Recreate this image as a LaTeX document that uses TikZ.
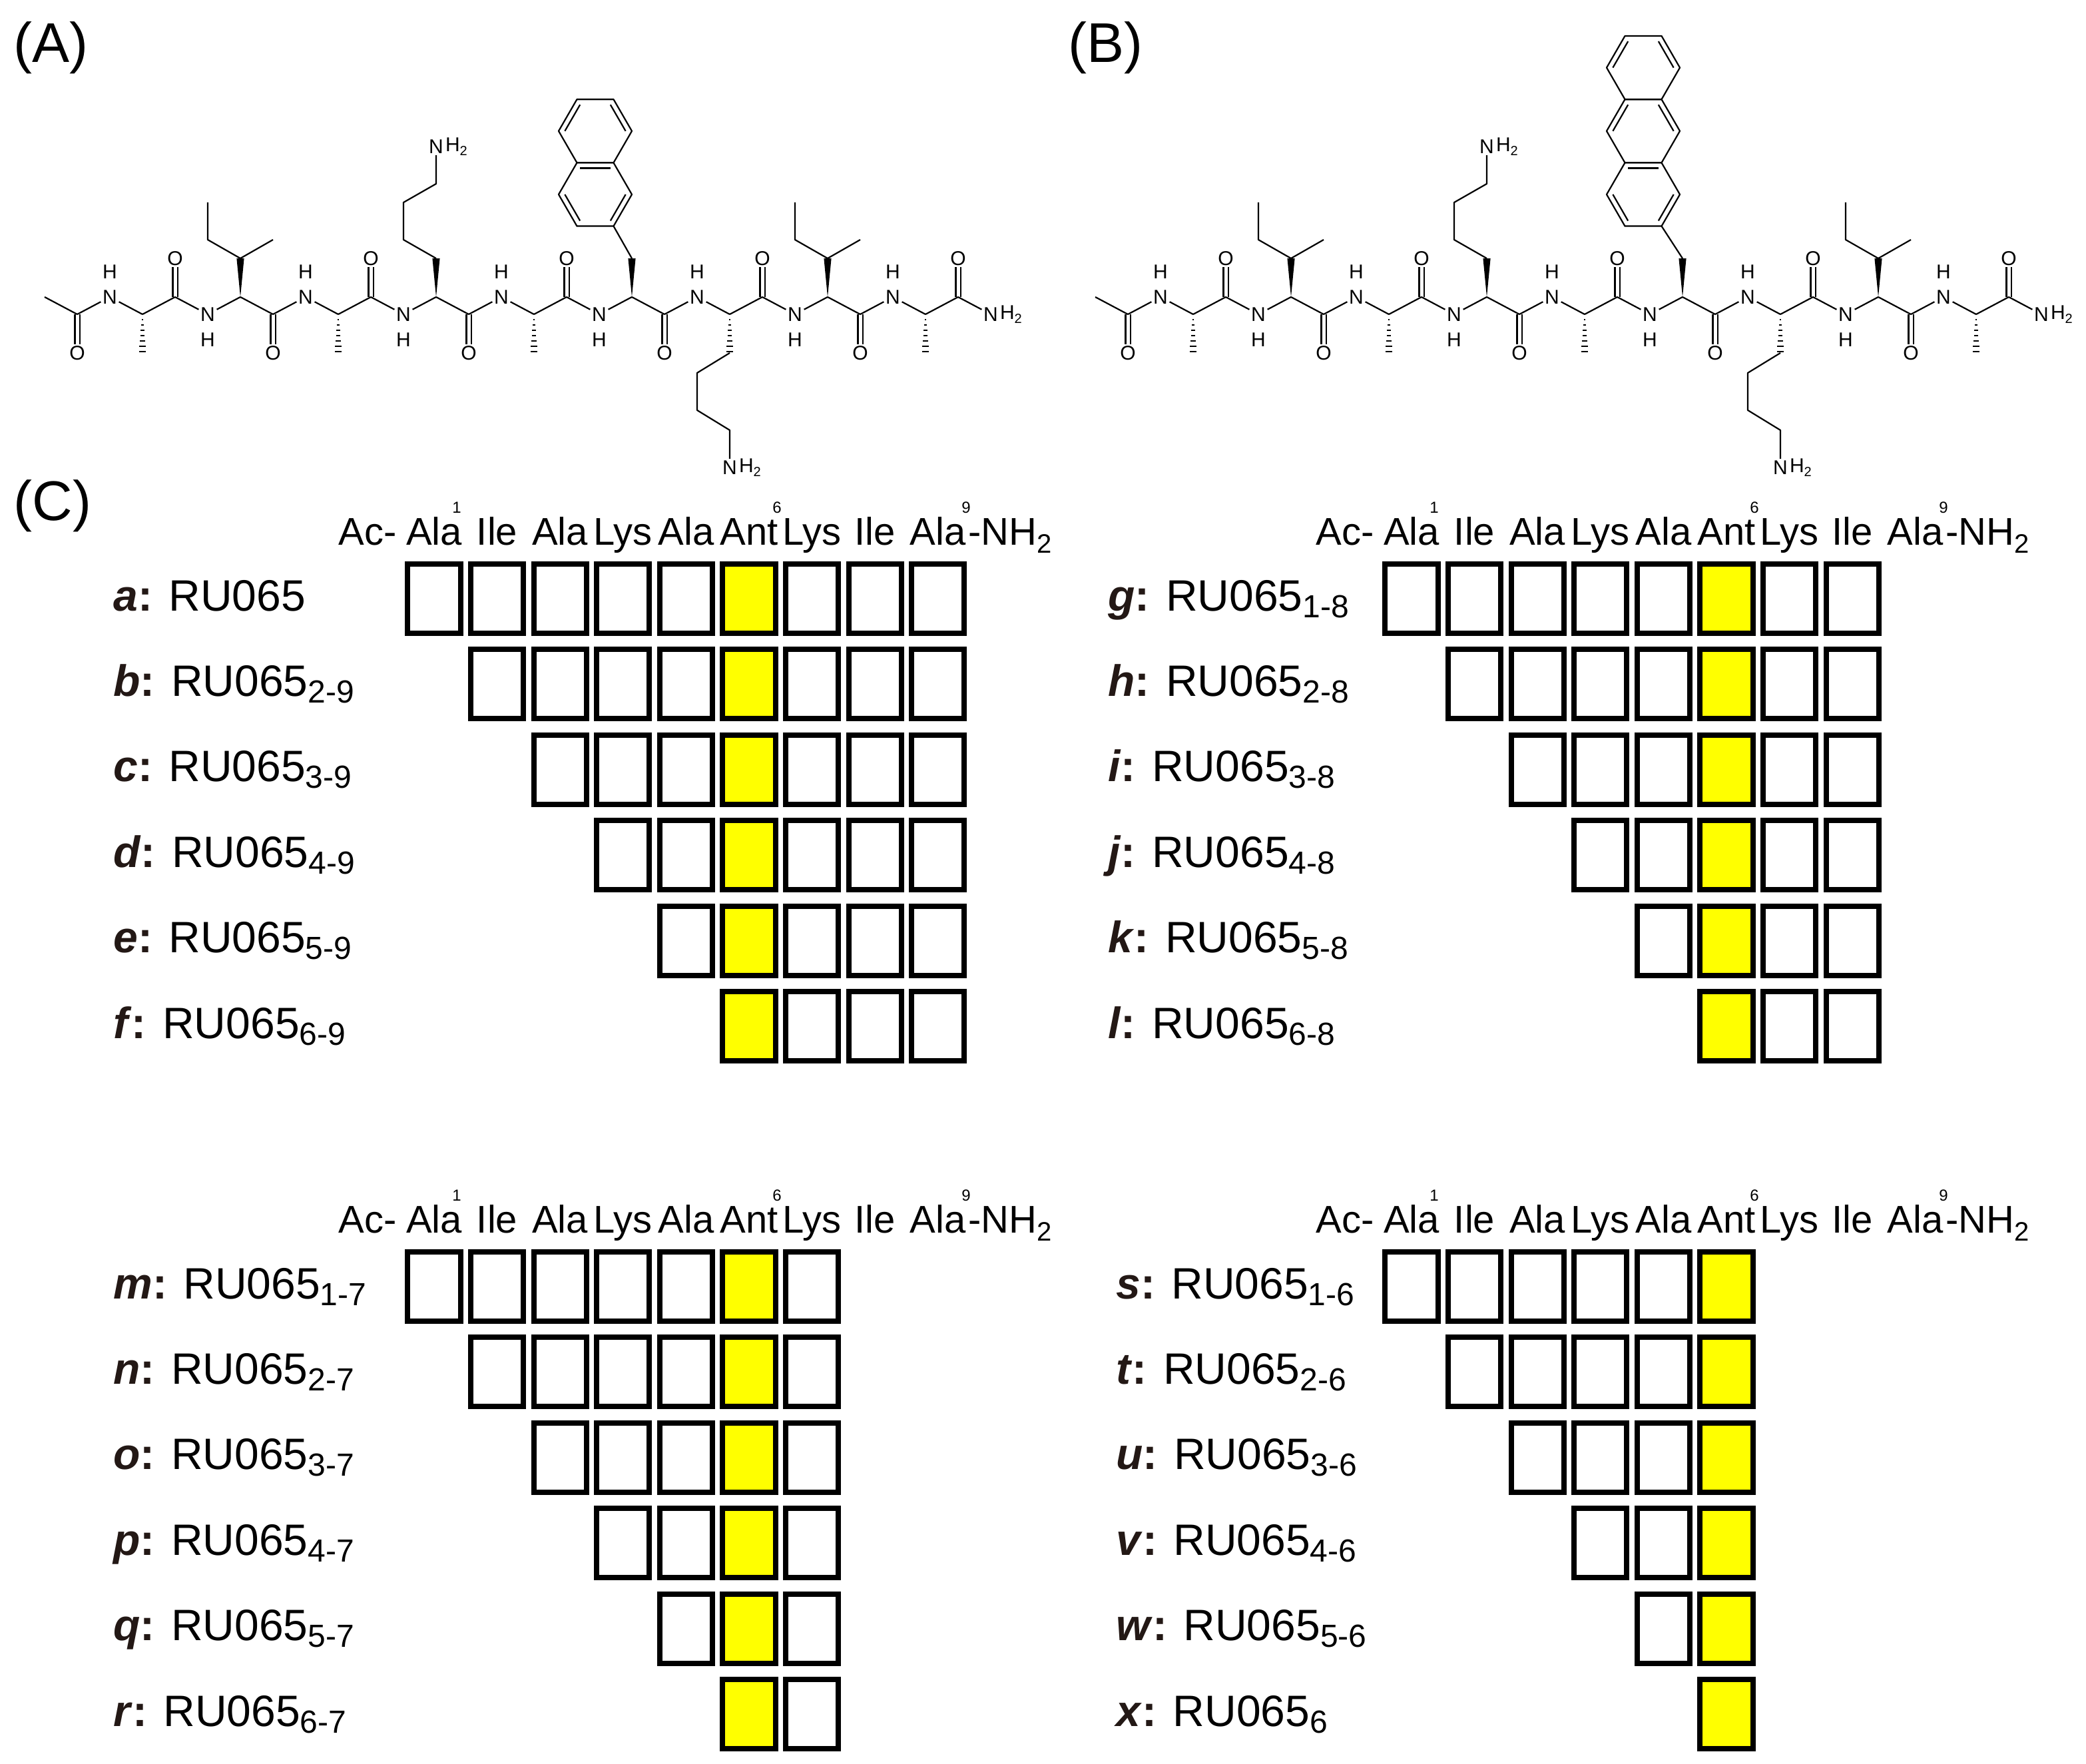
\documentclass[tikz,border=0pt]{standalone}
\usepackage{fontspec}
\setmainfont{Liberation Sans}
\usetikzlibrary{calc}
\definecolor{labc}{HTML}{231815}
\definecolor{ylw}{HTML}{FFFF00}
\tikzset{
  atom/.style={font=\fontsize{15}{15}\selectfont, inner sep=1.2pt},
  bond/.style={line width=1.1pt, line join=round},
  box/.style={draw, line width=4pt, minimum width=39.6pt, minimum height=52pt, inner sep=0pt},
  hdr/.style={font=\fontsize{29}{30}\selectfont, anchor=base, inner sep=0pt},
  sup/.style={font=\fontsize{12}{12}\selectfont, inner sep=0pt},
  lab/.style={font=\fontsize{33}{34}\selectfont, anchor=base west, inner sep=0pt},
  plab/.style={font=\fontsize{42}{42}\selectfont, anchor=north west, inner sep=0pt}
}
\newcommand\subs[1]{\raisebox{-5pt}{\fontsize{24}{24}\selectfont #1}}
% hashed bond down from (x,236) to (x,265)
\newcommand\hashdown[1]{\foreach \k in {1,...,7}{\draw[line width=1pt] ({#1-0.4-0.33*\k},{236+\k*4}) -- ({#1+0.4+0.33*\k},{236+\k*4});}}
\newcommand\wedgeup[1]{\fill ({#1},223) -- ({#1-2.8},194) -- ({#1+2.8},194) -- cycle;}
\newcommand\sideIle[1]{\wedgeup{#1}\draw[bond] ({#1},194) -- ({#1-24.5},180) -- ({#1-24.5},152); \draw[bond] ({#1},194) -- ({#1+24.5},180);}
\newcommand\sideAla[1]{\hashdown{#1}}
\newcommand\sideLysUp[2]{\wedgeup{#1}
  \node[atom] (#2) at ({#1},110) {N};
  \node[atom, anchor=west, inner sep=0pt] at (#2.east) {H\raisebox{-3pt}{\fontsize{10}{10}\selectfont 2}};
  \draw[bond] ({#1},194) -- ({#1-24.5},180) -- ({#1-24.5},152) -- ({#1},138) -- (#2);}
\newcommand\sideLysDown[2]{\hashdown{#1}
  \node[atom] (#2) at ({#1},351) {N};
  \node[atom, anchor=west, inner sep=0pt] at (#2.east) {H\raisebox{-3pt}{\fontsize{10}{10}\selectfont 2}};
  \draw[bond] ({#1},265) -- ({#1-24.5},280) -- ({#1-24.5},308) -- ({#1},323) -- (#2);}
% flat-top hexagon, center (#1,#2)
\newcommand\hexa[3]{%
  \coordinate (#3c) at (#1,#2);
  \coordinate (#3v0) at ({#1+27.5},#2);
  \coordinate (#3v1) at ({#1+13.75},{#2+23.8});
  \coordinate (#3v2) at ({#1-13.75},{#2+23.8});
  \coordinate (#3v3) at ({#1-27.5},#2);
  \coordinate (#3v4) at ({#1-13.75},{#2-23.8});
  \coordinate (#3v5) at ({#1+13.75},{#2-23.8});
  \draw[bond] (#3v0) -- (#3v1) -- (#3v2) -- (#3v3) -- (#3v4) -- (#3v5) -- cycle;}
\newcommand\inner[3]{\draw[bond] ($(#1#2)!0.17!(#1c)$) -- ($(#1#3)!0.17!(#1c)$);}
\newcommand\sideAr[2]{\wedgeup{#1}
  \ifnum#2=0
    \hexa{#1-27.5}{98.4}{r1}\hexa{#1-27.5}{146}{r2}
    \inner{r1}{v3}{v4}\inner{r1}{v5}{v0}\inner{r2}{v4}{v5}\inner{r2}{v2}{v3}\inner{r2}{v0}{v1}
    \draw[bond] ({#1},194) -- (r2v1);
  \else
    \hexa{#1-29.5}{50.8}{r1}\hexa{#1-29.5}{98.4}{r3}\hexa{#1-29.5}{146}{r2}
    \inner{r1}{v3}{v4}\inner{r1}{v5}{v0}\inner{r3}{v3}{v4}\inner{r3}{v5}{v0}
    \inner{r2}{v4}{v5}\inner{r2}{v2}{v3}\inner{r2}{v0}{v1}
    \draw[bond] ({#1},194) -- (r2v1);
  \fi}
\newcommand\peptide[2]{%
  \foreach \i in {0,...,29}{
    \pgfmathsetmacro\xx{33.5+24.5*\i}
    \pgfmathtruncatemacro\odd{mod(\i,2)}
    \pgfmathtruncatemacro\m{mod(\i,3)}
    \pgfmathsetmacro\yy{ifthenelse(\odd==1,236,223)}
    \ifnum\m=2
      \node[atom] (#1-\i) at (\xx,\yy) {N};
      \ifnum\i<29
        \ifnum\odd=1 \node[atom] at (\xx,255) {H};\else \node[atom] at (\xx,204) {H};\fi
      \else
        \node[atom, anchor=west, inner sep=0pt] at (#1-\i.east) {H\raisebox{-3pt}{\fontsize{10}{10}\selectfont 2}};
      \fi
    \else
      \coordinate (#1-\i) at (\xx,\yy);
    \fi
    \ifnum\m=1
      \ifnum\odd=1
        \node[atom] (#1-O\i) at (\xx,265) {O};
        \draw[bond] ([xshift=-1.8pt]#1-\i) -- ([xshift=-1.8pt]#1-O\i.north);
        \draw[bond] ([xshift=1.8pt]#1-\i) -- ([xshift=1.8pt]#1-O\i.north);
      \else
        \node[atom] (#1-O\i) at (\xx,194) {O};
        \draw[bond] ([xshift=-1.8pt]#1-\i) -- ([xshift=-1.8pt]#1-O\i.south);
        \draw[bond] ([xshift=1.8pt]#1-\i) -- ([xshift=1.8pt]#1-O\i.south);
      \fi
    \fi
  }
  \foreach \i [evaluate=\i as \j using int(\i+1)] in {0,...,28}{\draw[bond] (#1-\i) -- (#1-\j);}
  \sideAla{107}\sideIle{180.5}\sideAla{254}\sideLysUp{327.5}{#1-K4}\sideAla{401}
  \sideAr{474.5}{#2}\sideLysDown{548}{#1-K7}\sideIle{621.5}\sideAla{695}
}
% panel: #1 id, #2 xoff, #3 yoff, #4 ncols, #5 label x, #6 list
\newcommand\pepPanel[6]{%
  \begin{scope}[shift={(#2,#3)}]
    \node[hdr, anchor=base east] (#1-h0) at (298,409) {Ac-};
    \foreach \w [count=\c] in {Ala,Ile,Ala,Lys,Ala,Ant,Lys,Ile,Ala}{
      \node[hdr] (#1-h\c) at ({326+47.3*(\c-1)},409) {\w};}
    \node[hdr, anchor=base west] (#1-h10) at (727,409) {-NH\raisebox{-6pt}{\fontsize{20}{20}\selectfont 2}};
    \node[sup] (#1-s1) at (343,381) {1};
    \node[sup] (#1-s6) at (583.5,381) {6};
    \node[sup] (#1-s9) at (725.5,381) {9};
    \foreach \r in {0,...,5}{
      \foreach \c in {1,...,#4}{
        \ifnum\c>\r
          \ifnum\c=6
            \node[box, fill=ylw] (#1-b\r-\c) at ({326+47.3*(\c-1)},{449.5+64.2*\r}) {};
          \else
            \node[box] (#1-b\r-\c) at ({326+47.3*(\c-1)},{449.5+64.2*\r}) {};
          \fi
        \fi
      }
    }
    \foreach \l/\s [count=\r from 0] in {#6}{
      \node[lab] (#1-l\r) at (#5,{458.5+64.2*\r}) {\textcolor{labc}{\textbf{\textit{\l}:}} RU065\subs{\s}};
    }
  \end{scope}}
\begin{document}
\begin{tikzpicture}[x=1pt,y=-1pt]
\useasboundingbox (0,0) rectangle (1566.5,1324.5);
\fill[white] (0,0) rectangle (1566.5,1324.5);
\node[plab] (pA) at (10,16) {(A)};
\node[plab] (pB) at (802,16) {(B)};
\node[plab] (pC) at (10,360) {(C)};
\peptide{A}{0}
\begin{scope}[shift={(789,0)}]
\peptide{B}{1}
\end{scope}
\pepPanel{P1}{0}{0}{9}{85}{a/{},b/{2-9},c/{3-9},d/{4-9},e/{5-9},f/{6-9}}
\pepPanel{P2}{734}{0}{8}{98}{g/{1-8},h/{2-8},i/{3-8},j/{4-8},k/{5-8},l/{6-8}}
\pepPanel{P3}{0}{516.5}{7}{85}{m/{1-7},n/{2-7},o/{3-7},p/{4-7},q/{5-7},r/{6-7}}
\pepPanel{P4}{734}{516.5}{6}{104}{s/{1-6},t/{2-6},u/{3-6},v/{4-6},w/{5-6},x/{6}}
\end{tikzpicture}
\end{document}
